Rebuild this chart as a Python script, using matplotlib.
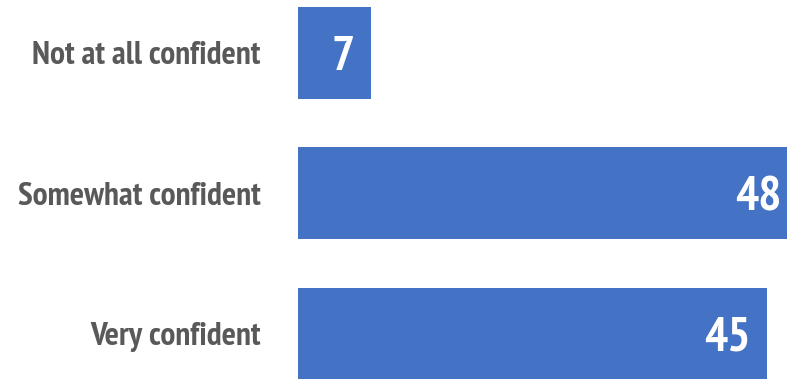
import matplotlib
matplotlib.use("Agg")
import matplotlib.pyplot as plt

categories = ["Not at all confident", "Somewhat confident", "Very confident"]
values = [7, 48, 45]

BAR_COLOR = "#4472C4"
TEXT_COLOR = "#595959"
FONT = ["PT Sans Narrow", "DejaVu Sans"]

W, H, DPI = 787, 379, 100
fig = plt.figure(figsize=(W / DPI, H / DPI), dpi=DPI)
left_px = 298
ax = fig.add_axes([left_px / W, 0, 1 - left_px / W, 1])

pos = list(range(len(categories)))
ax.barh(pos, values, height=0.655, color=BAR_COLOR)

# horizontal scale: about 10.42 px per unit; the longest bar runs off the edge
ax.set_xlim(0, (W - left_px) / 10.42)
spacing = 140.3
ax.set_ylim((H - 53) / spacing, -53 / spacing)

for p, v, name in zip(pos, values, categories):
    ax.annotate(str(v), xy=(v, p), xytext=(-12, 0), textcoords="offset points",
                ha="right", va="center_baseline", color="white",
                fontsize=35, fontweight="bold", family=FONT, stretch="condensed",
                annotation_clip=False)
    ax.annotate(name, xy=(0, p), xytext=(-27, 0), textcoords="offset points",
                ha="right", va="center_baseline", color=TEXT_COLOR,
                fontsize=24, fontweight="bold", family=FONT, stretch="condensed",
                annotation_clip=False)

ax.axis("off")
fig.savefig("out.png", dpi=DPI)
